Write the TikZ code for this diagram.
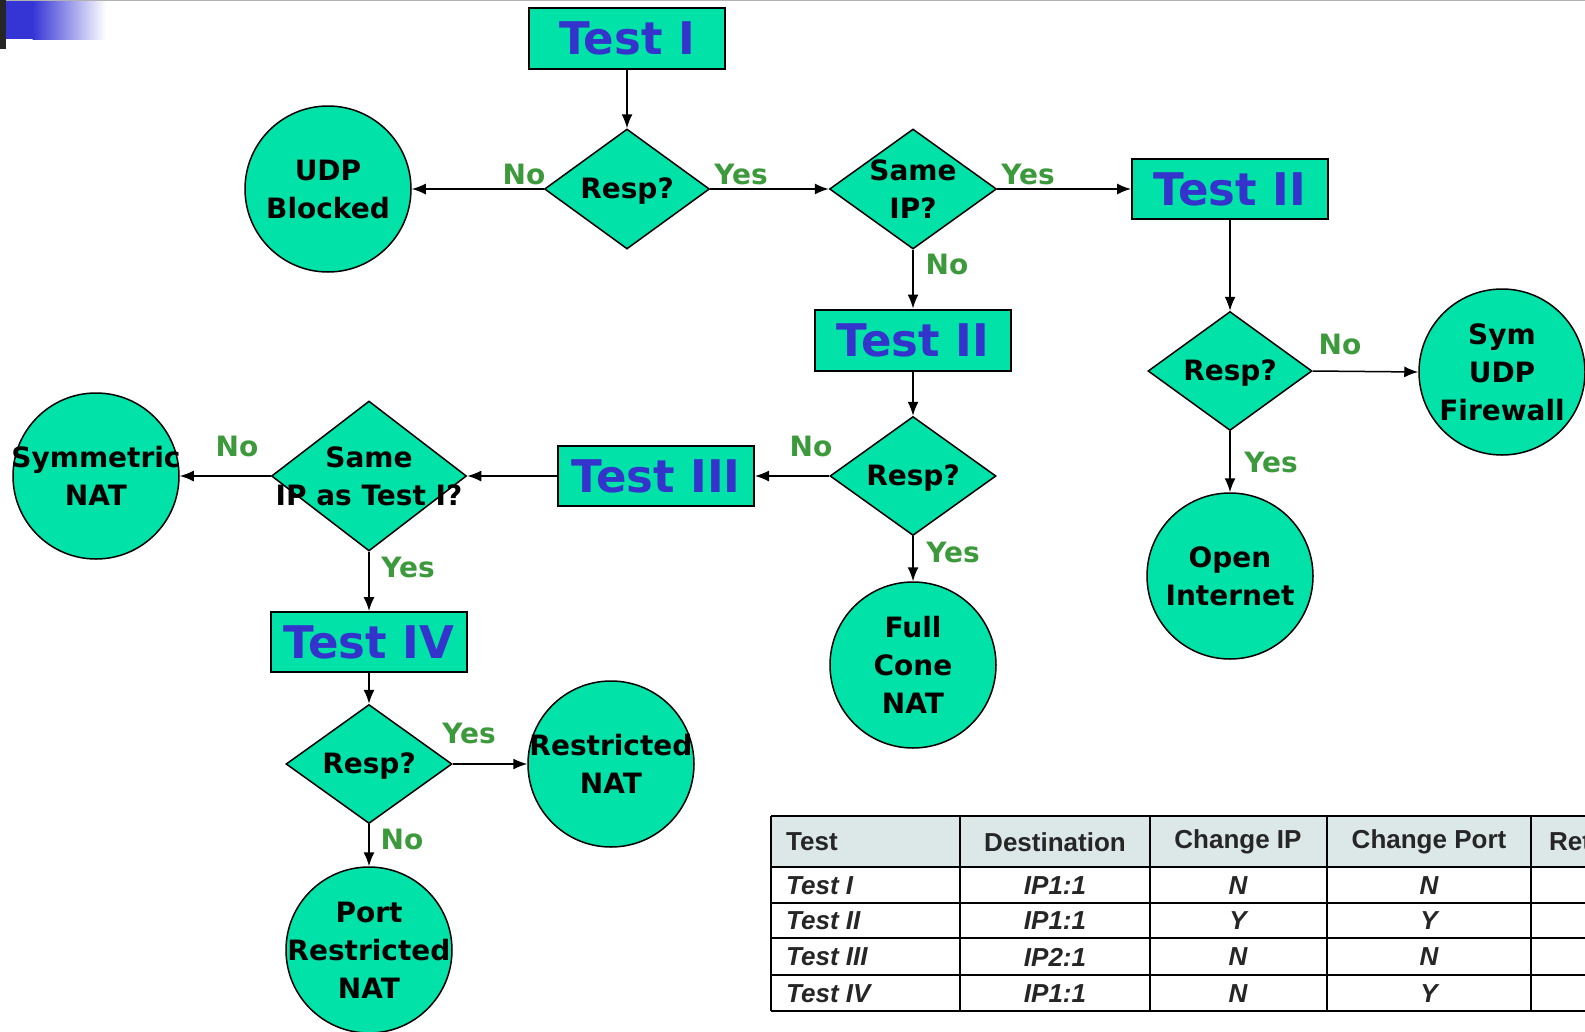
\documentclass[tikz,border=0pt]{standalone}
\usepackage{fontspec}
\setmainfont{DejaVu Sans}
\newfontfamily\tabfont{Liberation Sans}
\usetikzlibrary{shapes.geometric,arrows.meta}
\definecolor{nodefill}{HTML}{00E2A8}
\definecolor{lblgreen}{HTML}{3C9A3C}
\definecolor{boxblue}{HTML}{3434CC}
\definecolor{hdrfill}{HTML}{DCE8E8}
\definecolor{gradblue}{HTML}{3535D5}
\begin{document}
\begin{tikzpicture}[x=1pt,y=-1pt,
  tbox/.style={draw=black, line width=2pt, fill=nodefill, minimum width=196pt, minimum height=61pt, inner sep=0pt, text=boxblue, font=\bfseries\fontsize{45}{50}\selectfont},
  dia/.style={diamond, draw=black, line width=1.5pt, fill=nodefill, inner sep=0pt},
  ncirc/.style={circle, draw=black, line width=1.5pt, fill=nodefill, minimum size=166pt, inner sep=0pt},
  ntext/.style={font=\bfseries\fontsize{28}{38}\selectfont, align=center, text=black, inner sep=0pt},
  lbl/.style={font=\bfseries\fontsize{28}{32}\selectfont, text=lblgreen, inner sep=0pt},
  arr/.style={-{Latex[length=14pt,width=11pt]}, line width=1.5pt},
  tabh/.style={font=\tabfont\bfseries\fontsize{26}{30}\selectfont, text=black!85, inner sep=0pt},
  tabc/.style={font=\tabfont\bfseries\itshape\fontsize{26}{30}\selectfont, text=black!85, inner sep=0pt},
  tline/.style={line width=2.5pt, black}
]
\useasboundingbox (0,0) rectangle (1585,1031);
\clip (0,0) rectangle (1585,1031);
\fill[white] (0,0) rectangle (1585,1031);

% top decoration
\draw[gray!60, line width=1.2pt] (0,0.6) -- (1585,0.6);
\fill[gradblue] (6,1) rectangle (33,39);
\shade[left color=gradblue, right color=white] (32.5,1) rectangle (106,39);
\fill[black!85] (0,0) rectangle (6,49);

% boxes
\node[tbox] (t1) at (627,38) {Test I};
\node[tbox, minimum height=60pt] (t2r) at (1230,189) {Test II};
\node[tbox] (t2m) at (913,340) {Test II};
\node[tbox, minimum height=60pt] (t3) at (656,476) {Test III};
\node[tbox, minimum height=60pt] (t4) at (369,642) {Test IV};

% diamonds
\node[dia, minimum width=165pt, minimum height=120pt] (r1) at (627,189) {};
\node[ntext, yshift=-2pt] (r1t) at (r1) {Resp?};
\node[dia, minimum width=167pt, minimum height=120pt] (s1) at (913,189) {};
\node[ntext] (s1t) at (s1) {Same\\IP?};
\node[dia, minimum width=164pt, minimum height=119pt] (rr) at (1230,371) {};
\node[ntext, yshift=-2pt] (rrt) at (rr) {Resp?};
\node[dia, minimum width=166pt, minimum height=119pt] (rm) at (913,476) {};
\node[ntext, yshift=-2pt] (rmt) at (rm) {Resp?};
\node[dia, minimum width=195pt, minimum height=150pt] (s2) at (369,476) {};
\node[ntext] (s2t) at (s2) {Same\\IP as Test I?};
\node[dia, minimum width=166pt, minimum height=119pt] (r4) at (369,764) {};
\node[ntext, yshift=-2pt] (r4t) at (r4) {Resp?};

% circles
\node[ncirc] (udp) at (328,189) {};
\node[ntext] (udpt) at (udp) {UDP\\Blocked};
\node[ncirc] (sym) at (1502,372) {};
\node[ntext] (symt) at (sym) {Sym\\UDP\\Firewall};
\node[ncirc] (open) at (1230,576) {};
\node[ntext] (opent) at (open) {Open\\Internet};
\node[ncirc] (full) at (913,665) {};
\node[ntext] (fullt) at (full) {Full\\Cone\\NAT};
\node[ncirc] (symn) at (96,476) {};
\node[ntext] (symnt) at (symn) {Symmetric\\NAT};
\node[ncirc] (rest) at (611,764) {};
\node[ntext] (restt) at (rest) {Restricted\\NAT};
\node[ncirc] (port) at (369,950) {};
\node[ntext] (portt) at (port) {Port\\Restricted\\NAT};

% connectors
\draw[arr] (t1.south) -- (r1.north);
\draw[arr] (r1.west) -- (udp.east);
\draw[arr] (r1.east) -- (s1.west);
\draw[arr] (s1.east) -- (t2r.west);
\draw[arr] (s1.south) -- (t2m.north);
\draw[arr] (t2r.south) -- (rr.north);
\draw[arr] (rr.east) -- (sym.west);
\draw[arr] (rr.south) -- (open.north);
\draw[arr] (t2m.south) -- (rm.north);
\draw[arr] (rm.west) -- (t3.east);
\draw[arr] (rm.south) -- (full.north);
\draw[arr] (t3.west) -- (s2.east);
\draw[arr] (s2.west) -- (symn.east);
\draw[arr] (s2.south) -- (t4.north);
\draw[arr] (t4.south) -- (r4.north);
\draw[arr] (r4.east) -- (rest.west);
\draw[arr] (r4.south) -- (port.north);

% labels
\node[lbl] (l1) at (524,174) {No};
\node[lbl] (l2) at (741,174) {Yes};
\node[lbl] (l3) at (1028,174) {Yes};
\node[lbl] (l4) at (947,264) {No};
\node[lbl] (l5) at (1340,344) {No};
\node[lbl] (l6) at (1271,462) {Yes};
\node[lbl] (l7) at (811,446) {No};
\node[lbl] (l8) at (953,552) {Yes};
\node[lbl] (l9) at (237,446) {No};
\node[lbl] (l10) at (408,567) {Yes};
\node[lbl] (l11) at (469,733) {Yes};
\node[lbl] (l12) at (402,839) {No};

% table
\fill[hdrfill] (771,816) rectangle (1600,867);
\draw[tline] (771,816) -- (1600,816);
\foreach \yy in {867,903,938,975} \draw[tline] (771,\yy) -- (1600,\yy);
\draw[tline] (771,1011) -- (1600,1011);
\foreach \xx in {771,960,1150,1327,1531} \draw[tline] (\xx,816) -- (\xx,1011);

\node[tabh, anchor=west] (h1) at (786,842) {Test};
\node[tabh] (h2) at (1055,842) {Destination};
\node[tabh] (h3) at (1238,842) {Change IP};
\node[tabh] (h4) at (1429,842) {Change Port};
\node[tabh, anchor=west] (h5) at (1549,842) {Ret};

\node[tabc, anchor=west] (a1) at (786,886) {Test I};
\node[tabc] (a2) at (1055,886) {IP1:1};
\node[tabc] (a3) at (1238,886) {N};
\node[tabc] (a4) at (1429,886) {N};

\node[tabc, anchor=west] (b1) at (786,921) {Test II};
\node[tabc] (b2) at (1055,921) {IP1:1};
\node[tabc] (b3) at (1238,921) {Y};
\node[tabc] (b4) at (1429,921) {Y};

\node[tabc, anchor=west] (c1) at (786,957) {Test III};
\node[tabc] (c2) at (1055,957) {IP2:1};
\node[tabc] (c3) at (1238,957) {N};
\node[tabc] (c4) at (1429,957) {N};

\node[tabc, anchor=west] (d1) at (786,994) {Test IV};
\node[tabc] (d2) at (1055,994) {IP1:1};
\node[tabc] (d3) at (1238,994) {N};
\node[tabc] (d4) at (1429,994) {Y};
\end{tikzpicture}
\end{document}
